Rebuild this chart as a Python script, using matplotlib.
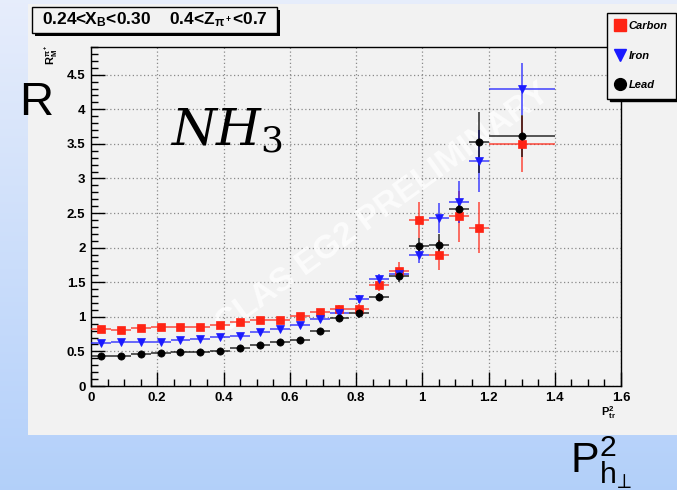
#!/usr/bin/env python

import numpy as np
import matplotlib
matplotlib.use("Agg")
import matplotlib.pyplot as plt
from matplotlib.patches import Rectangle
from matplotlib.lines import Line2D
from matplotlib.ticker import MultipleLocator

plt.rcParams['font.family'] = ['Liberation Sans', 'DejaVu Sans']
plt.rcParams['mathtext.fontset'] = 'custom'
plt.rcParams['mathtext.rm'] = 'Liberation Sans'
plt.rcParams['mathtext.it'] = 'Liberation Sans:italic'
plt.rcParams['mathtext.bf'] = 'Liberation Sans:bold'

# bin centres and half widths (P_tr^2)
pt2 = [0.03, 0.09, 0.15, 0.21, 0.27, 0.33, 0.39, 0.45, 0.51, 0.57,
       0.63, 0.69, 0.75, 0.81, 0.87, 0.93, 0.99, 1.05, 1.11, 1.17, 1.30]
pt2_err = [0.03] * 20 + [0.10]

carbon = [0.82, 0.81, 0.84, 0.85, 0.85, 0.85, 0.88, 0.92, 0.96, 0.95,
          1.01, 1.07, 1.12, 1.12, 1.46, 1.66, 2.40, 1.89, 2.45, 2.29, 3.50]
carbon_err = [0.03, 0.03, 0.03, 0.03, 0.03, 0.03, 0.03, 0.03, 0.03, 0.04,
              0.04, 0.04, 0.05, 0.06, 0.09, 0.13, 0.26, 0.22, 0.37, 0.37, 0.40]

iron = [0.62, 0.63, 0.63, 0.64, 0.67, 0.68, 0.71, 0.72, 0.78, 0.83,
        0.88, 0.97, 1.05, 1.26, 1.55, 1.62, 1.90, 2.43, 2.66, 3.25, 4.29]
iron_err = [0.03, 0.03, 0.03, 0.03, 0.03, 0.03, 0.03, 0.03, 0.04, 0.04,
            0.04, 0.05, 0.05, 0.06, 0.07, 0.09, 0.12, 0.22, 0.30, 0.45, 0.38]

lead = [0.44, 0.44, 0.46, 0.48, 0.49, 0.49, 0.51, 0.55, 0.59, 0.64,
        0.67, 0.79, 0.99, 1.05, 1.29, 1.59, 2.02, 2.04, 2.56, 3.52, 3.61]
lead_err = [0.02, 0.02, 0.02, 0.02, 0.02, 0.02, 0.03, 0.03, 0.03, 0.03,
            0.03, 0.04, 0.05, 0.06, 0.06, 0.09, 0.12, 0.15, 0.15, 0.44, 0.30]

W, H = 677, 490


def fx(px):
    return px / W


def fy(py):
    return 1 - py / H


fig = plt.figure(figsize=(6.77, 4.90), dpi=100)

# blue slide background + grey canvas
bg = fig.add_axes([0, 0, 1, 1], zorder=-10)
grad = np.linspace(0, 1, 256).reshape(-1, 1)
top = np.array([0.905, 0.93, 0.985])
bot = np.array([0.70, 0.815, 0.98])
img = top + (bot - top) * grad[:, :, None]
bg.imshow(img, aspect='auto', extent=[0, 1, 0, 1])
bg.set_xlim(0, 1)
bg.set_ylim(0, 1)
bg.axis('off')
fig.patches.append(Rectangle((fx(28), fy(435)), 1 - fx(28), fy(4) - fy(435),
                             transform=fig.transFigure, fc='#f2f2f2',
                             ec='none', zorder=-5))

ax = fig.add_axes([fx(91), fy(386), fx(621) - fx(91), fy(47) - fy(386)])
ax.set_facecolor('#f2f2f2')

series = [(carbon, carbon_err, '#ff2414', 's', 5.2),
          (iron, iron_err, '#1a1aff', 'v', 5.5),
          (lead, lead_err, '#000000', 'o', 5.2)]
for vals, err, col, mk, ms in series:
    ax.errorbar(pt2, vals, yerr=err, xerr=pt2_err, fmt=mk, color=col,
                ms=ms, mec=col, mfc=col, mew=0.5, elinewidth=1.3, capsize=0,
                ecolor=matplotlib.colors.to_rgba(col, 0.7), zorder=3)

ax.set_xlim(0, 1.6)
ax.set_ylim(0, 4.9)
ax.xaxis.set_minor_locator(MultipleLocator(0.05))
ax.yaxis.set_minor_locator(MultipleLocator(0.1))
ax.set_xticks([0, 0.2, 0.4, 0.6, 0.8, 1.0, 1.2, 1.4, 1.6])
ax.set_xticklabels(['0', '0.2', '0.4', '0.6', '0.8', '1', '1.2', '1.4', '1.6'])
ax.set_yticks([0, 0.5, 1, 1.5, 2, 2.5, 3, 3.5, 4, 4.5])
ax.set_yticklabels(['0', '0.5', '1', '1.5', '2', '2.5', '3', '3.5', '4', '4.5'])
ax.tick_params(which='both', direction='in', top=False, right=False,
               labelsize=9.5, width=1)
ax.tick_params(which='major', length=10, pad=4)
ax.tick_params(which='minor', length=5)
for lab in ax.get_xticklabels() + ax.get_yticklabels():
    lab.set_fontweight('bold')
ax.set_axisbelow(True)
ax.grid(True, which='major', color='#8a8a8a', linestyle=(0, (1, 2)), lw=0.9)
for sp in ax.spines.values():
    sp.set_linewidth(1)

# watermark
ax.text(0.88, 2.55, 'CLAS EG2 PRELIMINARY', rotation=36, color='white',
        alpha=0.75, fontsize=24, fontweight='bold', ha='center', va='center',
        zorder=1.5)

# title box with shadow
fig.patches.append(Rectangle((fx(35), fy(36)), fx(280) - fx(35), fy(10) - fy(36),
                             transform=fig.transFigure, fc='black', ec='none',
                             zorder=5))
fig.patches.append(Rectangle((fx(32), fy(33)), fx(277) - fx(32), fy(7) - fy(33),
                             transform=fig.transFigure, fc='#f2f2f2', ec='black',
                             lw=1, zorder=6))
fig.text(fx(155), fy(20), r'0.24<X$_\mathbf{B}$<0.30    0.4<Z$_{\mathbf{\pi^+}}$<0.7',
         fontsize=12.5, fontweight='bold', ha='center', va='center', zorder=7)

# legend
handles = [Line2D([], [], ls='none', marker='s', color='#ff2414', ms=8.5),
           Line2D([], [], ls='none', marker='v', color='#1a1aff', ms=8.5),
           Line2D([], [], ls='none', marker='o', color='black', ms=8.5)]
leg = fig.legend(handles, ['Carbon', 'Iron', 'Lead'], loc='upper left',
                 bbox_to_anchor=(fx(607), fy(13)), frameon=True, fancybox=False,
                 shadow={'color': 'black', 'alpha': 1}, edgecolor='black',
                 facecolor='#f2f2f2', framealpha=1, borderaxespad=0,
                 prop={'size': 8, 'weight': 'bold', 'style': 'italic'},
                 labelspacing=1.75, handlelength=0.8, handletextpad=0.4,
                 borderpad=0.75)
leg.get_frame().set_linewidth(1)
leg.set_zorder(8)

# axis titles
fig.text(fx(51), fy(45), r'$\mathbf{R_M^{\pi^+}}$', rotation=90, fontsize=8,
         ha='center', va='top')
fig.text(fx(609), fy(404), r'$\mathbf{P_{tr}^2}$', fontsize=8,
         ha='center', va='top')

# slide annotations
fig.text(fx(19), fy(115), 'R', fontsize=34, ha='left', va='baseline')
fig.text(fx(170), fy(146), r'$NH_3$', fontsize=37, math_fontfamily='dejavuserif',
         ha='left', va='baseline')
fig.text(fx(570), fy(473), r'$\mathrm{P}_{\mathrm{h}_{\!\perp}}^{\mathrm{2}}$',
         fontsize=31, ha='left', va='baseline')

fig.savefig('out.png', dpi=100)
